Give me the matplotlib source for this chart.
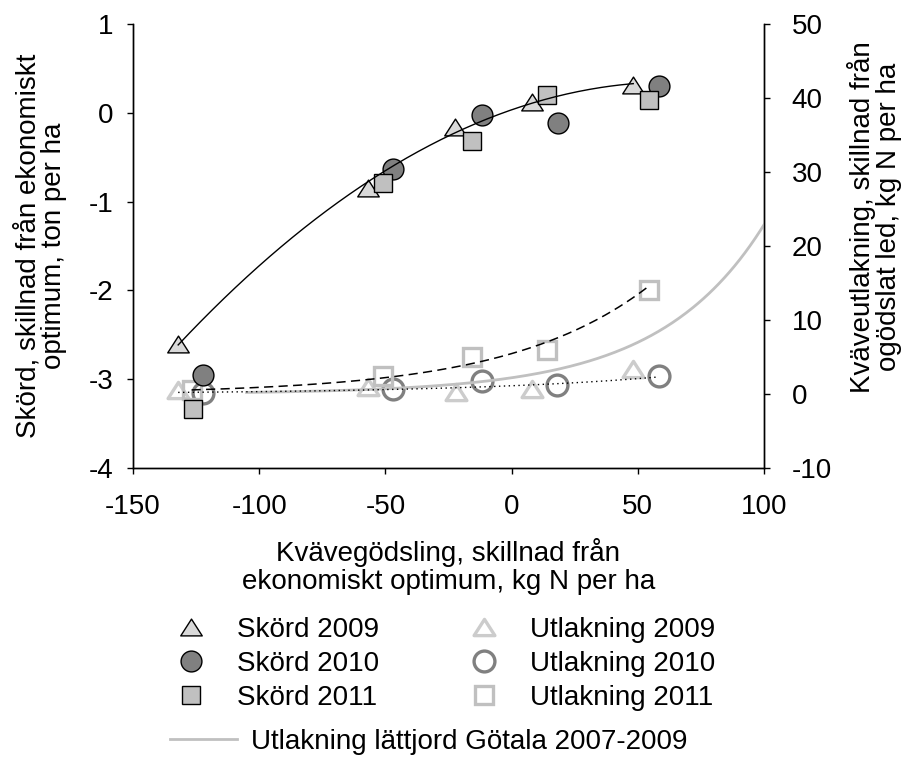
import numpy as np
import matplotlib.pyplot as plt
from matplotlib.lines import Line2D
from matplotlib.path import Path

plt.rcParams['font.family'] = ['Liberation Sans', 'DejaVu Sans']
plt.rcParams['font.size'] = 20
plt.rcParams['axes.unicode_minus'] = False

# Skörd, skillnad från ekonomiskt optimum (ton per ha), vänster axel
skord_2009_x = [-132.1, -57.0, -22.4, 8.2, 48.2]
skord_2009_y = [-2.60, -0.85, -0.16, 0.12, 0.31]
skord_2010_x = [-122.1, -46.9, -11.9, 18.3, 58.4]
skord_2010_y = [-2.95, -0.63, -0.02, -0.12, 0.30]
skord_2011_x = [-126.1, -51.0, -15.8, 14.1, 54.3]
skord_2011_y = [-3.34, -0.79, -0.32, 0.20, 0.14]

# Kväveutlakning, skillnad från ogödslat led (kg N per ha), höger axel
utl_2009_x = [-132.1, -57.0, -21.9, 8.2, 48.2]
utl_2009_y = [0.5, 0.9, 0.3, 0.7, 3.4]
utl_2010_x = [-122.1, -47.0, -11.9, 18.1, 58.3]
utl_2010_y = [0.1, 0.7, 1.7, 1.2, 2.5]
utl_2011_x = [-126.8, -51.1, -15.8, 14.1, 54.3]
utl_2011_y = [0.5, 2.4, 5.0, 6.0, 14.0]

# Utlakning lättjord Götala 2007-2009 (avläst kurva)
gotala_x = [-105, -90, -75, -60, -45, -30, -15, 0, 15, 30, 45, 60, 75, 90, 100]
gotala_y = [0.2, 0.3, 0.42, 0.58, 0.85, 1.15, 1.5, 2.0, 3.0, 4.5, 6.3, 8.9, 12.6, 17.9, 23.1]

xticks = [-150, -100, -50, 0, 50, 100]
yticks_left = [-4, -3, -2, -1, 0, 1]
yticks_right = [-10, 0, 10, 20, 30, 40, 50]

# flatter triangle like the original
tri = Path([(0, 0.78), (-1, -0.78), (1, -0.78), (0, 0.78)], closed=True)

fig = plt.figure(figsize=(9.06, 7.57), dpi=100)
ax = fig.add_axes([133 / 906, 1 - 468 / 757, 631 / 906, 444 / 757])
ax2 = ax.twinx()
ax.set_zorder(ax2.get_zorder() + 1)
ax.patch.set_visible(False)

# leaching (right axis)
u09 = dict(marker=tri, ms=15, mfc='none', mec='#cccccc', mew=2.4, ls='none')
u10 = dict(marker='o', ms=15, mfc='none', mec='#808080', mew=2.4, ls='none')
u11 = dict(marker='s', ms=13, mfc='none', mec='#c0c0c0', mew=2.4, ls='none')
ax2.plot(utl_2009_x, utl_2009_y, **u09)
ax2.plot(utl_2010_x, utl_2010_y, **u10)
ax2.plot(utl_2011_x, utl_2011_y, **u11)

# smooth the read-off Götala curve
g = np.polyfit(gotala_x, np.log(gotala_y), 2)
xs = np.linspace(min(gotala_x), max(gotala_x), 300)
ax2.plot(xs, np.exp(np.polyval(g, xs)), color='#c0c0c0', lw=2, zorder=3)

# exponential trend, utlakning 2011
k, b = np.polyfit(utl_2011_x, np.log(utl_2011_y), 1)
xs = np.linspace(min(utl_2011_x), max(utl_2011_x), 200)
ax2.plot(xs, np.exp(b + k * xs), color='black', lw=1.1, dashes=(6, 3.5), zorder=4)

# exponential trend, utlakning 2009 + 2010
ux = np.array(utl_2009_x + utl_2010_x)
uy = np.array(utl_2009_y + utl_2010_y)
k, b = np.polyfit(ux, np.log(uy), 1)
xs = np.linspace(ux.min(), ux.max(), 200)
ax2.plot(xs, np.exp(b + k * xs), color='black', lw=1, dashes=(1, 2.5), zorder=4)

# yield (left axis)
s09 = dict(marker=tri, ms=15.5, mfc='#d9d9d9', mec='black', mew=1, ls='none')
s10 = dict(marker='o', ms=15, mfc='#808080', mec='black', mew=1, ls='none')
s11 = dict(marker='s', ms=13, mfc='#c0c0c0', mec='black', mew=1, ls='none')
ax.plot(skord_2009_x, skord_2009_y, **s09)
ax.plot(skord_2010_x, skord_2010_y, **s10)
ax.plot(skord_2011_x, skord_2011_y, **s11)

c = np.polyfit(skord_2009_x, skord_2009_y, 2)
xs = np.linspace(min(skord_2009_x), max(skord_2009_x), 200)
ax.plot(xs, np.polyval(c, xs), color='black', lw=1, zorder=4)

ax.set_xlim(-150, 100)
ax.set_ylim(-4, 1)
ax2.set_ylim(-10, 50)
ax.set_xticks(xticks)
ax.set_yticks(yticks_left)
ax2.set_yticks(yticks_right)

for a in (ax, ax2):
    a.spines['top'].set_visible(False)
    for s in ('left', 'right', 'bottom'):
        a.spines[s].set_linewidth(1)
ax.tick_params(axis='y', direction='out', length=4, width=1, pad=10)
ax.tick_params(axis='x', direction='out', length=4, width=1, pad=15)
ax2.tick_params(axis='y', direction='out', length=4, width=1, pad=16)

ax.set_xlabel('Kvävegödsling, skillnad från\nekonomiskt optimum, kg N per ha', linespacing=1.08)
ax.xaxis.set_label_coords(0.5, -0.158)
ax.set_ylabel('Skörd, skillnad från ekonomiskt\noptimum, ton per ha', linespacing=1.0)
ax.yaxis.set_label_coords(-0.104, 0.5)
ax2.set_ylabel('Kväveutlakning, skillnad från\nogödslat led, kg N per ha', linespacing=1.0)
ax2.yaxis.set_label_coords(1.1315, 0.565)

handles = [Line2D([], [], **s09), Line2D([], [], **s10), Line2D([], [], **s11),
           Line2D([], [], **u09), Line2D([], [], **u10), Line2D([], [], **u11)]
labels = ['Skörd 2009', 'Skörd 2010', 'Skörd 2011',
          'Utlakning 2009', 'Utlakning 2010', 'Utlakning 2011']
fig.legend(handles, labels, ncol=2, loc='upper left',
           bbox_to_anchor=(177 / 906, 1 - 617 / 757), frameon=False,
           handlelength=1.0, handletextpad=1.15, columnspacing=3.3,
           labelspacing=0.29, borderpad=0, borderaxespad=0)
fig.legend([Line2D([], [], color='#c0c0c0', lw=2)],
           ['Utlakning lättjord Götala 2007-2009'], loc='upper left',
           bbox_to_anchor=(170 / 906, 1 - 729 / 757), frameon=False,
           handlelength=2.41, handletextpad=0.5, borderpad=0, borderaxespad=0)

fig.savefig('out.png', dpi=100)
